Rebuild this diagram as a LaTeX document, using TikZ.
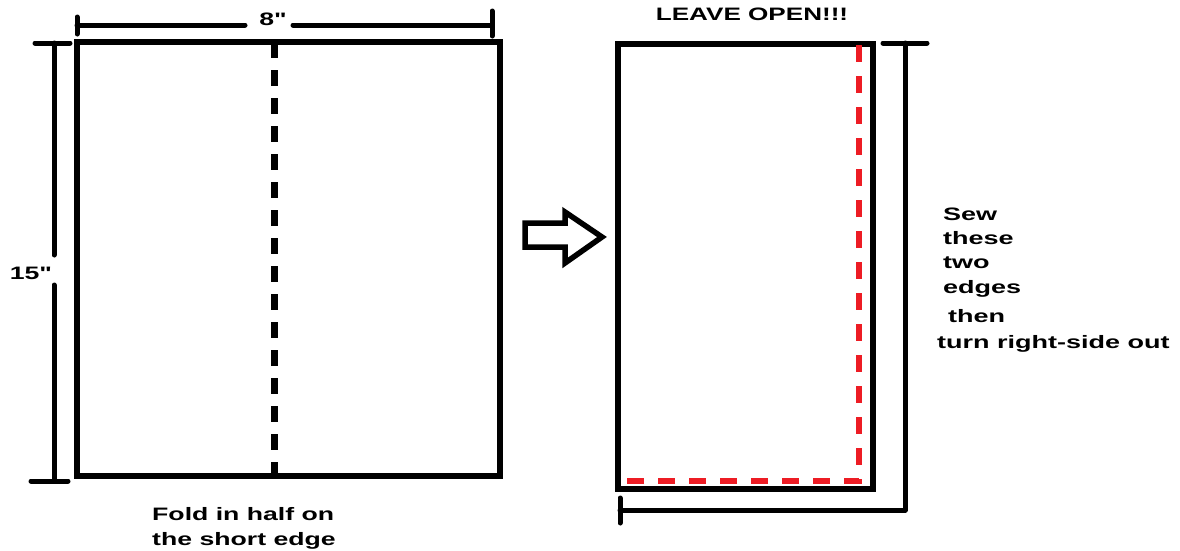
\documentclass[tikz,border=0pt]{standalone}
\usepackage{fontspec}
\setmainfont{Liberation Sans}[Ligatures=TeXOff]
\definecolor{paintred}{RGB}{237,28,36}
\begin{document}
\begin{tikzpicture}[x=1pt,y=-1pt,
  outline/.style={line width=6.5pt,line join=miter},
  dimline/.style={line width=5pt,line cap=round},
  foldline/.style={line width=7pt,dash pattern=on 16pt off 12pt},
  seamline/.style={line width=6pt,color=paintred,dash pattern=on 17pt off 14pt},
  lbl/.style={inner sep=0pt,font=\fontsize{18}{20}\selectfont\bfseries},
  bigarrow/.style={line width=5.5pt,line join=miter}]
\useasboundingbox (0,0) rectangle (1180,550);
% left piece
\draw[outline] (77,42) rectangle (500,476);
\draw[foldline] (274.5,42) -- (274.5,476);
% width dimension
\draw[dimline] (77,17) -- (77,34);
\draw[dimline] (492,11) -- (492,36);
\draw[dimline] (77,25) -- (245,25);
\draw[dimline] (293,25) -- (492,25);
\node[lbl,anchor=base] (w) at (273,25) {\scalebox{1.48}[1]{8"}};
% height dimension
\draw[dimline] (35,43) -- (70,43);
\draw[dimline] (31,481) -- (68,481);
\draw[dimline] (54,43) -- (54,255);
\draw[dimline] (54,285) -- (54,481);
\node[lbl,anchor=base] (h) at (31,279) {\scalebox{1.48}[1]{15"}};
\node[lbl,anchor=base west] (f1) at (152,520) {\scalebox{1.48}[1]{Fold in half on}};
\node[lbl,anchor=base west] (f2) at (152,545) {\scalebox{1.48}[1]{the short edge}};
% arrow
\draw[bigarrow] (525,223) -- (565,223) -- (565,212) -- (602,237) -- (565,263) -- (565,247) -- (525,247) -- cycle;
% right piece
\draw[outline] (618,44) rectangle (873,489);
\draw[seamline] (859,45) -- (859,481) -- (620,481);
\draw[dimline] (883,43) -- (927,43);
\draw[dimline,line join=round] (905,43) -- (905,510) -- (620,510);
\draw[dimline] (620,498) -- (620,523);
\node[lbl,anchor=base] (lo) at (752,20) {\scalebox{1.45}[1]{LEAVE OPEN!!!}};
\node[lbl,anchor=base west] (s1) at (943,220) {\scalebox{1.5}[1]{Sew}};
\node[lbl,anchor=base west] (s2) at (943,244) {\scalebox{1.5}[1]{these}};
\node[lbl,anchor=base west] (s3) at (943,268) {\scalebox{1.5}[1]{two}};
\node[lbl,anchor=base west] (s4) at (943,293) {\scalebox{1.5}[1]{edges}};
\node[lbl,anchor=base west] (s5) at (948,322) {\scalebox{1.5}[1]{then}};
\node[lbl,anchor=base west] (s6) at (937,348) {\scalebox{1.5}[1]{turn right-side out}};
\end{tikzpicture}
\end{document}
